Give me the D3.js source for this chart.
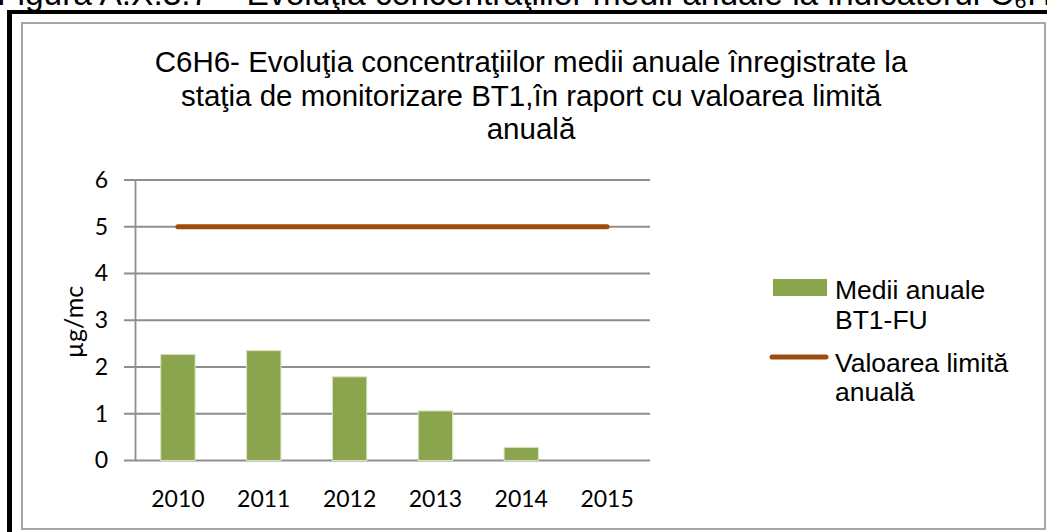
<!DOCTYPE html>
<html>
<head>
<meta charset="utf-8">
<script src="https://cdn.jsdelivr.net/npm/d3@7"></script>
<style>
  body { margin: 0; background: #fff; }
  svg { display: block; }
</style>
</head>
<body>
<svg id="chart" width="1047" height="532"></svg>
<script>
const years = ["2010", "2011", "2012", "2013", "2014", "2015"]
const mediiAnuale = [2.27, 2.35, 1.79, 1.06, 0.28, 0]
const valoareLimita = [5, 5, 5, 5, 5, 5]
const yTicks = [0, 1, 2, 3, 4, 5, 6]
const titleLines = [
  "C6H6- Evoluţia concentraţiilor medii anuale înregistrate  la",
  "staţia de monitorizare BT1,în  raport cu valoarea limită",
  "anuală"
]
const legendBar = ["Medii anuale", "BT1-FU"]
const legendLine = ["Valoarea limită", "anuală"]

const svg = d3.select("#chart")
const barColor = "#8ba54f"
const lineColor = "#9e4b0c"
const gridColor = "#8e8e8e"

// caption of the figure, cut off at the top
svg.append("text")
   .attr("x", -3).attr("y", 5)
   .attr("font-family", "Liberation Sans, Arial, sans-serif")
   .attr("font-size", 33.5)
   .text("Figura A.X.3.7  – Evoluţia concentraţiilor medii anuale la indicatorul C₆H₆")

// frames
svg.append("rect")
   .attr("x", 22).attr("y", 23).attr("width", 1023).attr("height", 506)
   .attr("fill", "#fff").attr("stroke", "#a6a6a6").attr("stroke-width", 2)
svg.append("line").attr("x1", 7).attr("x2", 1047).attr("y1", 12).attr("y2", 12)
   .attr("stroke", "#000").attr("stroke-width", 4)
svg.append("line").attr("x1", 9.5).attr("x2", 9.5).attr("y1", 10).attr("y2", 532)
   .attr("stroke", "#000").attr("stroke-width", 5)

// title
svg.append("g").selectAll("text")
   .data(titleLines)
   .enter()
   .append("text")
   .attr("x", 531)
   .attr("y", (d, i) => 72 + i * 33.5)
   .attr("text-anchor", "middle")
   .attr("font-family", "Liberation Sans, Arial, sans-serif")
   .attr("font-size", 29.5)
   .text(d => d)

const xc = d3.scaleBand().domain(years).range([135, 650])
const y = d3.scaleLinear().domain([0, 6]).range([460.5, 180])

// gridlines
svg.append("g").selectAll("line")
   .data(yTicks)
   .enter()
   .append("line")
   .attr("x1", 124).attr("x2", 650)
   .attr("y1", d => y(d)).attr("y2", d => y(d))
   .attr("stroke", gridColor).attr("stroke-width", 1.8)

// y axis
const yAxis = svg.append("g")
   .attr("transform", "translate(135,0)")
   .call(d3.axisLeft(y).tickValues(yTicks).tickFormat(d3.format("d")).tickSize(0).tickPadding(27))
yAxis.select(".domain").attr("stroke", gridColor).attr("stroke-width", 1.8)
yAxis.selectAll("text")
   .attr("font-family", "Lato, Carlito, sans-serif")
   .attr("font-size", 23)
   .attr("fill", "#000")

// x axis labels
const xAxis = svg.append("g")
   .attr("transform", "translate(0,460.5)")
   .call(d3.axisBottom(xc).tickSize(0).tickPadding(30))
xAxis.select(".domain").remove()
xAxis.selectAll("text")
   .attr("font-family", "Lato, Carlito, sans-serif")
   .attr("font-size", 23)
   .attr("fill", "#000")

// y label
svg.append("text")
   .attr("transform", "translate(83,322) rotate(-90)")
   .attr("text-anchor", "middle")
   .attr("font-family", "Lato, Carlito, sans-serif")
   .attr("font-size", 25)
   .text("µg/mc")

// bars
svg.append("g").selectAll("rect")
   .data(mediiAnuale)
   .enter()
   .append("rect")
   .attr("x", (d, i) => xc(years[i]) + xc.bandwidth() * 0.3)
   .attr("width", xc.bandwidth() * 0.4)
   .attr("y", d => y(d))
   .attr("height", d => y(0) - y(d))
   .attr("fill", barColor)
   .attr("stroke", d => d > 0 ? "#d7e4bd" : "none")
   .attr("stroke-width", 1)

// limit line
const line = d3.line()
   .x((d, i) => xc(years[i]) + xc.bandwidth() / 2)
   .y(d => y(d))
svg.append("path")
   .datum(valoareLimita)
   .attr("d", line)
   .attr("fill", "none")
   .attr("stroke", lineColor)
   .attr("stroke-width", 5)
   .attr("stroke-linecap", "round")

// legend
const legend = svg.append("g")
   .attr("font-family", "Liberation Sans, Arial, sans-serif")
   .attr("font-size", 26.5)
legend.append("rect")
   .attr("x", 773).attr("y", 279).attr("width", 54).attr("height", 17)
   .attr("fill", barColor)
legend.selectAll(".lb")
   .data(legendBar)
   .enter()
   .append("text")
   .attr("x", 835)
   .attr("y", (d, i) => 299 + i * 30)
   .text(d => d)
legend.append("line")
   .attr("x1", 772).attr("x2", 826).attr("y1", 357).attr("y2", 357)
   .attr("stroke", lineColor).attr("stroke-width", 5).attr("stroke-linecap", "round")
legend.selectAll(".ll")
   .data(legendLine)
   .enter()
   .append("text")
   .attr("x", 835)
   .attr("y", (d, i) => 372 + i * 29)
   .text(d => d)
</script>
</body>
</html>
